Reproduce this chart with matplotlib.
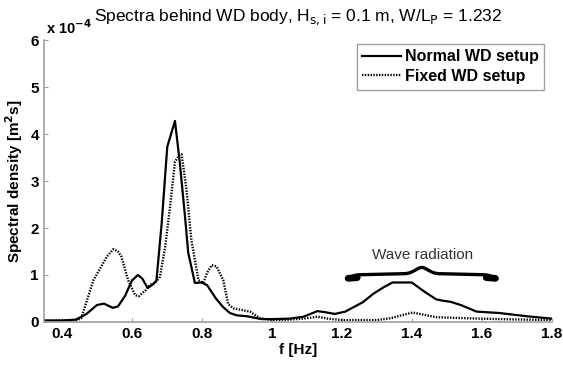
"""Spectra behind the WD body: normal vs fixed setup."""

import matplotlib

matplotlib.use("Agg")
import matplotlib.pyplot as plt
import numpy as np

plt.rcParams["font.family"] = ["Liberation Sans", "DejaVu Sans"]

# frequency [Hz] and spectral density [x 1e-4 m^2 s]
freq_normal = [
    0.35, 0.40, 0.44, 0.47, 0.50, 0.52, 0.545, 0.56, 0.58, 0.60, 0.617, 0.63,
    0.645, 0.66, 0.67, 0.685, 0.701, 0.723, 0.737, 0.751, 0.761, 0.78, 0.80,
    0.815, 0.84, 0.86, 0.88, 0.90, 0.93, 0.97, 1.00, 1.05, 1.09, 1.11, 1.13,
    1.15, 1.18, 1.21, 1.23, 1.26, 1.29, 1.32, 1.345, 1.40, 1.437, 1.47, 1.49,
    1.51, 1.54, 1.585, 1.65, 1.73, 1.80,
]
spec_normal = [
    0.03, 0.03, 0.05, 0.17, 0.36, 0.39, 0.30, 0.33, 0.55, 0.88, 1.00, 0.92,
    0.72, 0.80, 0.88, 2.10, 3.73, 4.28, 3.38, 2.30, 1.47, 0.83, 0.84,
    0.78, 0.50, 0.32, 0.19, 0.14, 0.12, 0.06, 0.06, 0.07, 0.11, 0.17, 0.23,
    0.21, 0.17, 0.22, 0.30, 0.42, 0.60, 0.74, 0.84, 0.84, 0.64, 0.48, 0.45,
    0.43, 0.36, 0.22, 0.19, 0.12, 0.07,
]

freq_fixed = [
    0.35, 0.44, 0.455, 0.49, 0.51, 0.528, 0.547, 0.56, 0.57, 0.589, 0.609,
    0.62, 0.64, 0.651, 0.666, 0.68, 0.695, 0.709, 0.723, 0.735, 0.742, 0.756,
    0.77, 0.79, 0.804, 0.815, 0.828, 0.842, 0.861, 0.875, 0.89, 0.91, 0.937,
    0.966, 1.00, 1.05, 1.09, 1.13, 1.16, 1.20, 1.30, 1.34, 1.37, 1.403, 1.43,
    1.47, 1.55, 1.65, 1.80,
]
spec_fixed = [
    0.03, 0.03, 0.08, 0.89, 1.15, 1.39, 1.55, 1.50, 1.39, 0.89, 0.57,
    0.55, 0.68, 0.79, 0.83, 0.96, 1.60, 2.45, 3.41, 3.55, 3.57, 2.81,
    1.74, 0.89, 0.83, 1.05, 1.21, 1.18, 0.89, 0.38, 0.29, 0.26, 0.22,
    0.08, 0.04, 0.05, 0.07, 0.11, 0.07, 0.04, 0.04, 0.08, 0.14, 0.20, 0.16,
    0.10, 0.08, 0.06, 0.04,
]

x_ticks = [0.4, 0.6, 0.8, 1.0, 1.2, 1.4, 1.6, 1.8]
x_tick_labels = ["0.4", "0.6", "0.8", "1", "1.2", "1.4", "1.6", "1.8"]
y_ticks = [0, 1, 2, 3, 4, 5, 6]


def draw_brace(ax, x0, x1, y, tip, drop, lw=2.4):
    """Draw a horizontal curly brace opening downwards."""
    xm = 0.5 * (x0 + x1)
    t = np.linspace(0, 1, 300)
    # left half: end curls down, middle tip goes up
    yl = (y - drop * np.exp(-(t / 0.08) ** 2)
          + tip * np.exp(-((t - 1) / 0.12) ** 2)
          + 0.03 * t)
    xl = x0 + t * (xm - x0)
    xr = x1 - t * (x1 - xm)
    ax.plot(xl, yl, color="black", lw=lw, solid_capstyle="round")
    ax.plot(xr, yl, color="black", lw=lw, solid_capstyle="round")
    # thick blobs at the ends
    for xa, xb in [(x0 + 0.004, x0 + 0.03), (x1 - 0.004, x1 - 0.03)]:
        ax.plot([xa, xb], [y - 0.9 * drop, y - 0.7 * drop], color="black",
                lw=lw + 2.5, solid_capstyle="round")


fig = plt.figure(figsize=(5.63, 3.65), dpi=100)
ax = fig.add_axes([0.079, 0.118, 0.901, 0.772])

ax.plot(freq_normal, spec_normal, color="black", lw=1.6, label="Normal WD setup")
ax.plot(freq_fixed, spec_fixed, color="black", lw=1.7, linestyle=(0, (0.6, 0.6)),
        label="Fixed WD setup")

ax.set_xlim(0.35, 1.8)
ax.set_ylim(0, 6)
ax.set_xticks(x_ticks)
ax.set_xticklabels(x_tick_labels)
ax.set_yticks(y_ticks)

for side in ["top", "right"]:
    ax.spines[side].set_visible(False)
for side in ["left", "bottom"]:
    ax.spines[side].set_color("#a0a0a0")
    ax.spines[side].set_linewidth(1.2)
ax.tick_params(direction="in", length=3, color="#a0a0a0", width=0.8,
               labelsize=11, pad=4)
for lbl in ax.get_xticklabels() + ax.get_yticklabels():
    lbl.set_fontweight("bold")

ax.set_xlabel("f [Hz]", fontsize=11, fontweight="bold", labelpad=1)
ax.set_ylabel("Spectral density [m$^\\mathbf{2}$s]", fontsize=11,
              fontweight="bold", labelpad=4)
ax.set_title("Spectra behind WD body, H$_{\\mathrm{s,i}}$ = 0.1 m, "
             "W/L$_{\\mathrm{P}}$ = 1.232", fontsize=12.5, pad=14)
ax.text(0.003, 1.012, "x 10$^{\\mathbf{-4}}$", transform=ax.transAxes,
        fontsize=10.5, fontweight="bold", ha="left", va="bottom")

leg = ax.legend(loc="upper right", bbox_to_anchor=(0.985, 0.988),
                prop={"weight": "bold", "size": 11.5}, fancybox=False,
                framealpha=1, edgecolor="#a0a0a0", handlelength=2.4,
                handletextpad=0.25, borderpad=0.35, labelspacing=0.3,
                borderaxespad=0)
leg.get_frame().set_linewidth(1.0)

draw_brace(ax, 1.214, 1.643, 1.0, 0.13, 0.08)
ax.text(1.43, 1.27, "Wave radiation", fontsize=11, ha="center", va="bottom",
        color="#333333")

fig.savefig("out.png", dpi=100)
